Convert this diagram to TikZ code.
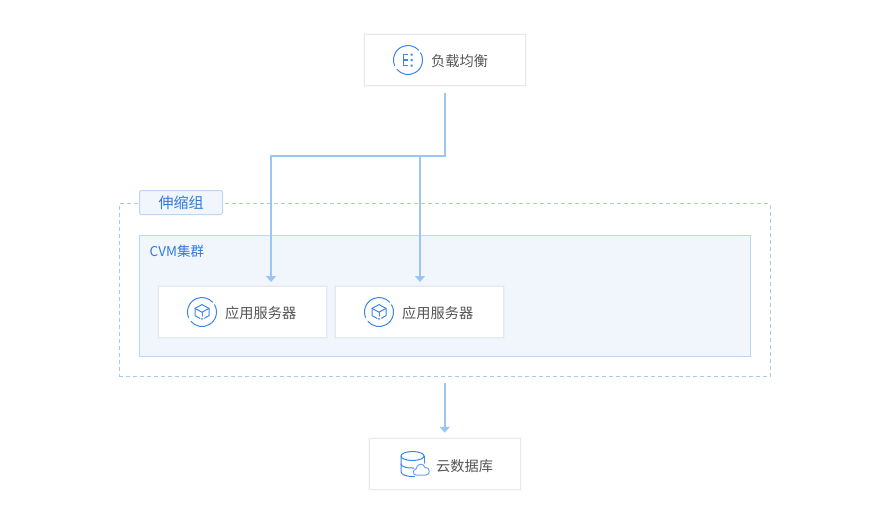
\documentclass[tikz,border=0pt]{standalone}
\usepackage{fontspec}
\setmainfont{Noto Sans CJK SC}
\usetikzlibrary{arrows.meta,calc}
\definecolor{conn}{HTML}{9CC5F3}
\definecolor{iconblue}{HTML}{3A87E6}
\definecolor{txt}{HTML}{555555}
\definecolor{labelblue}{HTML}{2F7BDD}
\definecolor{panelfill}{HTML}{F1F6FD}
\definecolor{panelline}{HTML}{BDD6F2}
\definecolor{dashline}{HTML}{A6CBF2}
\definecolor{boxline}{HTML}{E6E8EB}
\tikzset{
  x=1pt,y=-1pt,
  card/.style={draw=boxline,line width=1pt,fill=white,inner sep=0pt,minimum height=51pt,
    preaction={draw=black,draw opacity=.02,line width=2.4pt}},
  cardtext/.style={anchor=west,inner sep=0pt,text=txt,font=\fontsize{14.2}{16}\selectfont},
  link/.style={draw=conn,line width=2.2pt},
  arrowlink/.style={link,-{Triangle[width=10pt,length=6pt]}},
  icon/.style={draw=iconblue,line width=1pt,line cap=round,line join=round},
}
\newcommand{\ringicon}[1]{%
  \draw[icon] ($(#1)+(-30:14.5)$) arc[start angle=-30,delta angle=170,radius=14.5];
  \draw[icon] ($(#1)+(158:14.5)$) arc[start angle=158,delta angle=160,radius=14.5];
}
\begin{document}
\begin{tikzpicture}
\useasboundingbox (0,0) rectangle (890,528);
\fill[white] (0,0) rectangle (890,528);

% scaling group
\node[draw=dashline,line width=1pt,dash pattern=on 4pt off 3pt,minimum width=651pt,minimum height=173pt,inner sep=0pt] (outer) at (444.75,290) {};
\node[draw=panelline,fill=panelfill,line width=1pt,minimum width=611.5pt,minimum height=121pt,inner sep=0pt] (panel) at (444.75,296) {};
\node[draw=panelline,fill=panelfill,line width=1pt,rounded corners=1.5pt,minimum width=83pt,minimum height=24pt,inner sep=0pt,text=labelblue,font=\fontsize{15}{17}\selectfont] (grouplabel) at (181,202.5) {伸缩组};
\node[anchor=west,inner sep=0pt,text=labelblue,font=\fontsize{13.5}{15}\selectfont] (paneltitle) at (149.5,251.5) {CVM集群};

% cards
\node[card,minimum width=161pt] (lb) at (445,60) {};
\node[card,minimum width=168.5pt] (app1) at (242.25,312) {};
\node[card,minimum width=168.5pt] (app2) at (419.25,312) {};
\node[card,minimum width=151.5pt,minimum height=51.5pt] (db) at (444.75,464) {};

\node[cardtext] (lbtext) at (431,61.5) {负载均衡};
\node[cardtext] (app1text) at (225,313.5) {应用服务器};
\node[cardtext] (app2text) at (402,313.5) {应用服务器};
\node[cardtext] (dbtext) at (436,466) {云数据库};

% connectors
\coordinate (bus) at (0,156);
\coordinate (in1) at ($(app1.north)+(28.75,0)$);
\coordinate (in2) at ($(app2.north)+(0.75,0)$);
\draw[arrowlink,shorten <=7pt,shorten >=4pt] (lb.south) -- (lb.south |- bus) -| (in1);
\draw[arrowlink,shorten >=4pt] (in2 |- bus) -- (in2);
\draw[arrowlink,shorten <=5.5pt,shorten >=5pt] (db.north |- outer.south) -- (db.north);

% load balancer icon
\coordinate (i1) at (408,60);
\ringicon{i1}
\draw[draw=iconblue,line width=1.3pt] (407.5,54.5) -- (403.5,54.5) -- (403.5,65.5) -- (407.5,65.5) (403.5,60) -- (407.5,60);
\fill[iconblue] (410.5,53.5) rectangle (412.5,55.5) (410.5,59) rectangle (412.5,61) (410.5,64.5) rectangle (412.5,66.5);

% cube icons
\foreach \cx/\nm in {202/c1,379/c2}{
  \coordinate (\nm) at (\cx,312);
  \ringicon{\nm}
  \draw[icon] (\cx-2,318.4) -- (\cx-7,315.6) -- (\cx-7,308.4) -- (\cx,304.6) -- (\cx+7,308.4) -- (\cx+7,315.6) -- (\cx+2.5,318.2);
  \draw[icon] (\cx-7,308.4) -- (\cx,312.2) -- (\cx+7,308.4);
  \draw[icon] (\cx,312.2) -- (\cx,316);
  \fill[iconblue] (\cx,318.8) circle (1pt);
}

% database icon
\draw[icon] (412.5,456) ellipse[x radius=11.5,y radius=4.5];
\draw[icon] (401,456) -- (401,471.5) .. controls (401,474.5) and (406,476.5) .. (412.5,476.5) -- (414.5,476.5);
\draw[icon] (424,456) -- (424,463);
\draw[icon] (401,464) .. controls (401.5,467) and (407,468) .. (412.5,468) -- (414,468);
\draw[icon,draw=iconblue!75,fill=white] (416,475) .. controls (412.5,475) and (412.5,469.5) .. (416,469)
   .. controls (416.5,463.5) and (423.5,462.5) .. (425,467.5)
   .. controls (430,466.5) and (431,475) .. (426,475) -- cycle;
\end{tikzpicture}
\end{document}
